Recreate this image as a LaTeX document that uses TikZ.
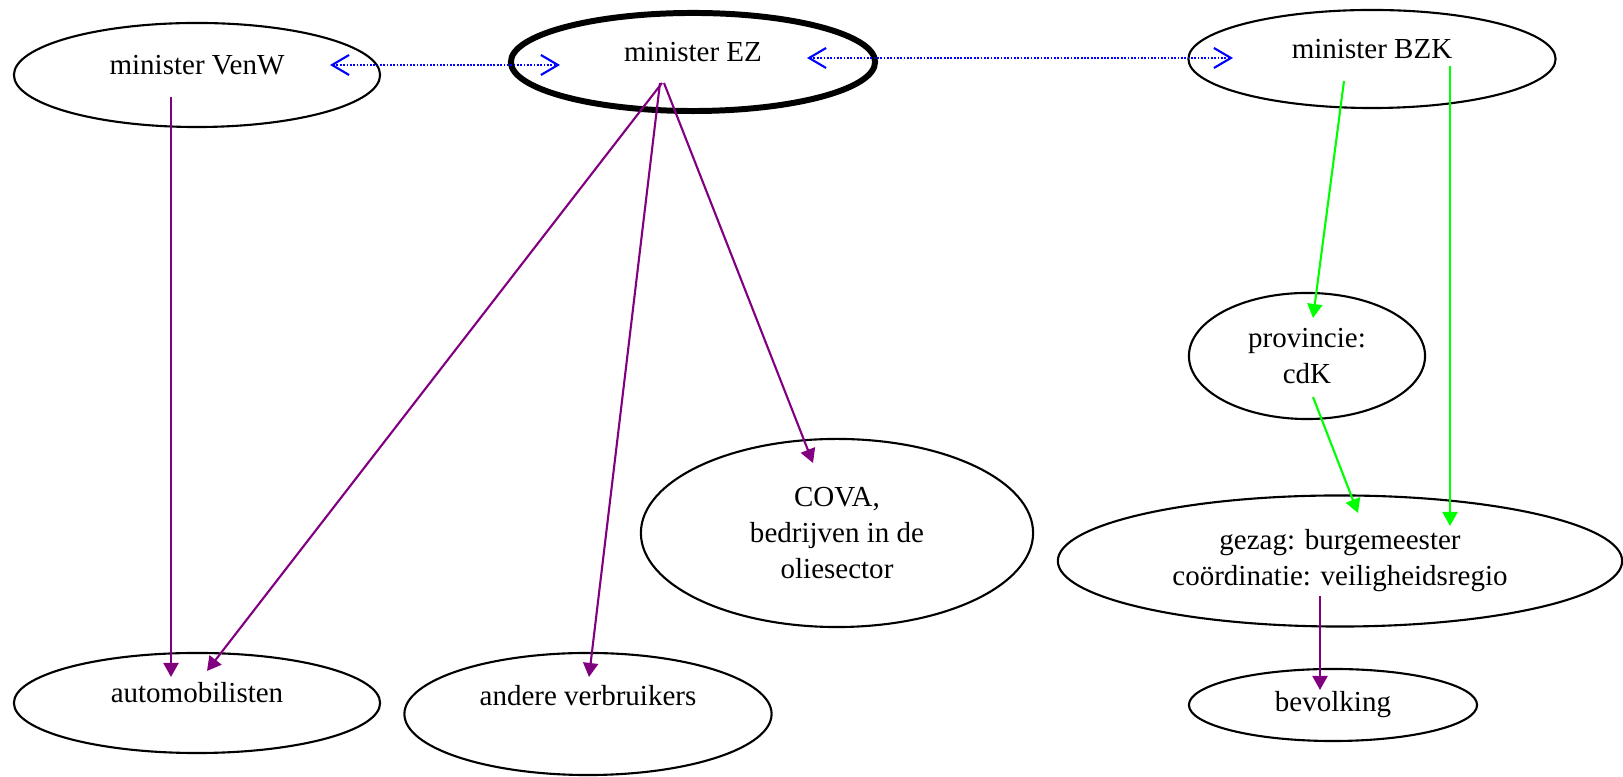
\documentclass[tikz,border=0pt]{standalone}
\usepackage{fontspec}
\setmainfont{Liberation Serif}
\usetikzlibrary{shapes,arrows.meta,calc}
\definecolor{gvpurple}{HTML}{800080}
\definecolor{gvgreen}{HTML}{00FF00}
\definecolor{gvblue}{HTML}{0000FF}
\tikzset{
	every picture/.style={line width=0.6pt},
}

\begin{document}
\begin{tikzpicture}[
	x=0.01cm, y=-0.01cm,
	font=\fontsize{8.25}{10.2}\selectfont,
	state/.style={ellipse, draw, inner sep=0pt, align=center},
	statel/.style={state, text height=0.7em, text depth=0.7em},
	statek/.style={statel, line width=1.7pt},
	purpleln/.style={draw=gvpurple, -{Triangle[length=0.14cm,width=0.15cm]}},
	greenln/.style={draw=gvgreen, -{Triangle[length=0.14cm,width=0.15cm]}},
	blueln/.style={draw=gvblue, dash pattern=on 0.5pt off 0.45pt,
		{Straight Barb[length=0.17cm,width=0.2cm]}-{Straight Barb[length=0.17cm,width=0.2cm]}},
	]
	\useasboundingbox (0,0) rectangle (1623,777);

	%ministers
	\node[statel, minimum width=3.66cm, minimum height=1.04cm] (venw) at (197,75) {minister VenW};
	\node[statek, minimum width=3.64cm, minimum height=0.98cm] (ez) at (693,62) {minister EZ};
	\node[statel, minimum width=3.67cm, minimum height=0.98cm] (bzk) at (1372,59) {minister BZK};
	%middle
	\node[state, minimum width=2.36cm, minimum height=1.26cm] (prov) at (1307,356) {provincie:\\cdK};
	\node[state, minimum width=3.92cm, minimum height=1.88cm] (cova) at (837,533) {COVA,\\bedrijven in de\\oliesector};
	\node[state, minimum width=5.64cm, minimum height=1.31cm] (gezag) at (1340,561) {gezag: burgemeester\\co\"ordinatie: veiligheidsregio};
	%bottom
	\node[statel, minimum width=3.66cm, minimum height=1.0cm] (auto) at (197,703) {automobilisten};
	\node[statel, text depth=1.18em, minimum width=3.67cm, minimum height=1.22cm] (andere) at (588,714) {andere verbruikers};
	\node[state, minimum width=2.88cm, minimum height=0.72cm] (bevolk) at (1333,705) {bevolking};

	%overleg
	\path ($(venw)+(133,-10)$) edge[blueln] ($(ez)+(-133,3)$);
	\path ($(ez)+(114,-4)$) edge[blueln] ($(bzk)+(-139,-1)$);

	%EZ and VenW
	\path ($(venw)+(-26,22)$) edge[purpleln] ($(auto)+(-26,-26)$);
	\path ($(ez)+(-31,21)$) edge[purpleln] ($(auto)+(10,-32)$);
	\path ($(ez)+(-33,21)$) edge[purpleln] ($(andere)+(1,-37)$);
	\path ($(ez)+(-29,21)$) edge[purpleln] ($(cova)+(-24,-70)$);

	%BZK
	\path ($(bzk)+(-28,22)$) edge[greenln] ($(prov)+(6,-38)$);
	\path ($(bzk)+(78,7)$) edge[greenln] ($(gezag)+(110,-35)$);
	\path ($(prov)+(6,41)$) edge[greenln] ($(gezag)+(18,-48)$);
	\path ($(gezag)+(-20,35)$) edge[purpleln] ($(bevolk)+(-13,-15)$);

\end{tikzpicture}
\end{document}
